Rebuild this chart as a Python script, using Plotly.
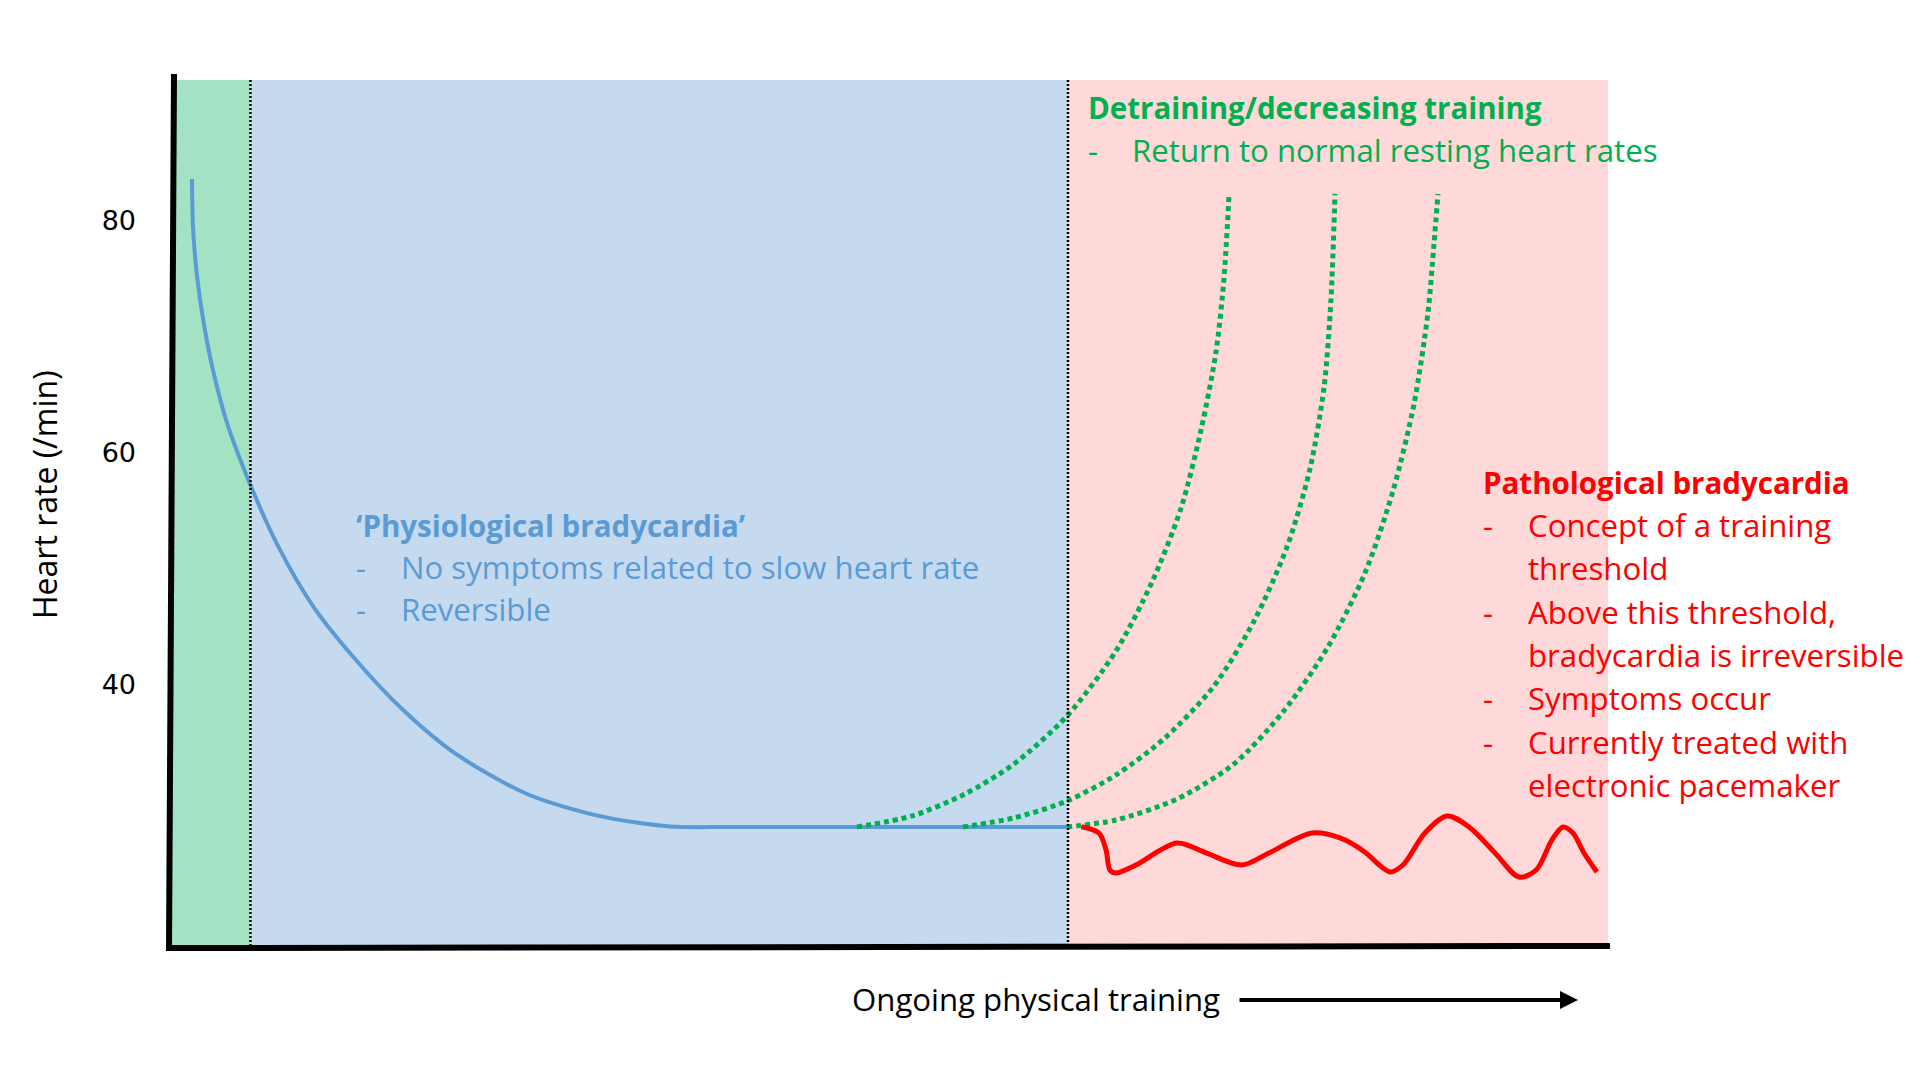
import plotly.graph_objects as go

# ---------------- data ----------------
# x: arbitrary "ongoing training" scale 0..100, y: heart rate (/min)
blue_x = [1.46, 1.53, 1.81, 2.30, 2.92, 3.90, 5.50, 7.38, 9.88, 12.87, 16.08, 19.83, 24.77, 29.78, 34.73, 38.9, 50.0, 62.42]
blue_y = [83.58, 79.44, 75.22, 70.99, 67.12, 62.55, 57.29, 52.12, 46.78, 42.13, 37.91, 34.03, 30.58, 28.69, 27.78, 27.74, 27.74, 27.74]

green1_x = [47.74, 51.57, 55.25, 58.66, 62.35, 65.76, 68.27, 70.29, 71.68, 72.72, 73.28, 73.63]
green1_y = [27.74, 28.69, 30.58, 33.17, 37.30, 42.90, 48.85, 55.22, 61.95, 68.67, 75.05, 82.29]

green2_x = [55.11, 58.66, 62.35, 65.76, 69.17, 72.58, 75.37, 77.66, 79.26, 80.24, 80.72, 81.00]
green2_y = [27.74, 28.52, 29.98, 32.22, 35.41, 39.89, 45.49, 51.87, 58.59, 65.65, 73.15, 82.29]

green3_x = [62.35, 65.76, 70.01, 73.97, 77.38, 80.51, 83.09, 85.04, 86.50, 87.47, 87.89, 88.17]
green3_y = [27.74, 28.34, 30.15, 33.17, 37.65, 43.25, 49.63, 56.70, 64.19, 72.04, 77.98, 82.29]

red_x = [63.35, 64.58, 65.07, 65.34, 65.76, 67.15, 70.01, 72.03, 74.53, 76.41, 79.40, 81.35, 83.16, 83.92,
         84.83, 85.73, 87.26, 88.80, 90.33, 92.14, 93.81, 95.00, 96.10, 96.87, 97.56, 98.33, 99.23]
red_y = [27.76, 27.22, 25.75, 24.03, 23.77, 24.46, 26.36, 25.50, 24.46, 25.50, 27.22, 26.79, 25.50, 24.64,
         23.86, 24.46, 27.22, 28.69, 27.74, 25.50, 23.43, 24.03, 26.62, 27.74, 27.22, 25.50, 23.86]

# phase boundaries on the training axis
phase_edges = [0.0, 5.53, 62.42, 100.0]
phase_colors = ["#A3E2C2", "#C5DAEE", "#FFD9D9"]

y_ticks = [40, 60, 80]
y_tick_labels = ["40", "60", "80"]

detrain_title = "Detraining/decreasing training"
detrain_lines = ["Return to normal resting heart rates"]
physio_title = "\u2018Physiological bradycardia\u2019"
physio_lines = ["No symptoms related to slow heart rate", "Reversible"]
patho_title = "Pathological bradycardia"
patho_lines = [("Concept of a training", True), ("threshold", False),
               ("Above this threshold,", True), ("bradycardia is irreversible", False),
               ("Symptoms occur", True), ("Currently treated with", True),
               ("electronic pacemaker", False)]
x_title = "Ongoing physical training"
y_title = "Heart rate (/min)"

# ---------------- layout geometry ----------------
W, H = 1920, 1080
L, R, T, B = 171, 1608, 80, 946


def px(x):
    return (x - L) / (R - L)


def py(y):
    return (B - y) / (B - T)


FONT = "Open Sans"
FS = 31.2      # regular text
FSB = 29.5     # bold headings
GREEN = "#00B050"
BLUE = "#5B9BD5"
RED = "#FF0000"

fig = go.Figure()

fig.add_trace(go.Scatter(x=blue_x, y=blue_y, mode="lines",
                         line=dict(color=BLUE, width=4, shape="spline", smoothing=0.8),
                         hoverinfo="skip"))
for gx, gy in [(green1_x, green1_y), (green2_x, green2_y), (green3_x, green3_y)]:
    fig.add_trace(go.Scatter(x=gx, y=gy, mode="lines",
                             line=dict(color=GREEN, width=5, dash="5px,4px", shape="spline", smoothing=0.8),
                             hoverinfo="skip"))
fig.add_trace(go.Scatter(x=red_x, y=red_y, mode="lines",
                         line=dict(color=RED, width=5, shape="spline", smoothing=0.9),
                         hoverinfo="skip"))

shapes = []
for i, c in enumerate(phase_colors):
    shapes.append(dict(type="rect", xref="x", yref="paper", x0=phase_edges[i], x1=phase_edges[i + 1],
                       y0=0, y1=1, fillcolor=c, line=dict(width=0), layer="below"))
for xe in phase_edges[1:3]:
    shapes.append(dict(type="line", xref="x", yref="paper", x0=xe, x1=xe, y0=0, y1=1,
                       line=dict(color="black", width=2.5, dash="2px,2px"), layer="above"))
# axis lines (slightly hand-drawn slant as in the reference)
shapes.append(dict(type="line", xref="paper", yref="paper", x0=px(174), x1=px(169), y0=py(74), y1=py(950),
                   line=dict(color="black", width=6), layer="above"))
shapes.append(dict(type="line", xref="paper", yref="paper", x0=px(166), x1=px(1610), y0=py(948), y1=py(946),
                   line=dict(color="black", width=6), layer="above"))

ann = []


def text(x, y, s, color, bold=False, anchor="left"):
    ann.append(dict(xref="paper", yref="paper", x=px(x), y=py(y), text=("<b>%s</b>" % s) if bold else s,
                    showarrow=False, xanchor=anchor, yanchor="middle",
                    font=dict(family=FONT, size=FSB if bold else FS, color=color)))


# detraining block
text(1086, 108, detrain_title, GREEN, bold=True)
text(1086, 150, "-", GREEN)
text(1130, 150, detrain_lines[0], GREEN)
# physiological block
text(354, 525, physio_title, BLUE, bold=True)
for k, s in enumerate(physio_lines):
    text(354, 566.5 + 42.5 * k, "-", BLUE)
    text(399, 566.5 + 42.5 * k, s, BLUE)
# pathological block
text(1481, 482.5, patho_title, RED, bold=True)
for k, (s, dash) in enumerate(patho_lines):
    yy = 525 + 43.3 * k
    if dash:
        text(1481, yy, "-", RED)
    text(1526, yy, s, RED)

# axis titles
text(1036, 999, x_title, "black", anchor="center")
ann.append(dict(xref="paper", yref="paper", x=px(1578), y=py(1000), ax=-340, ay=0, text="",
                showarrow=True, arrowhead=2, arrowsize=0.9, arrowwidth=4, arrowcolor="black"))
ann.append(dict(xref="paper", yref="paper", x=px(44), y=py(494), text=y_title, textangle=-90,
                showarrow=False, xanchor="center", yanchor="middle",
                font=dict(family=FONT, size=32, color="black")))

fig.update_layout(
    width=W, height=H,
    margin=dict(l=L, r=W - R, t=T, b=H - B, pad=0),
    paper_bgcolor="white", plot_bgcolor="white",
    showlegend=False,
    shapes=shapes, annotations=ann,
    xaxis=dict(range=[0, 100], showgrid=False, zeroline=False, showticklabels=False, showline=False,
               ticks="", fixedrange=True),
    yaxis=dict(range=[17.48, 92.11], tickvals=y_ticks, ticktext=y_tick_labels, showgrid=False,
               zeroline=False, showline=False, ticks="", ticklabelstandoff=34,
               tickfont=dict(family="DejaVu Sans", size=27, color="black"), fixedrange=True),
)

fig.write_html("out.html", config={"displayModeBar": False})
